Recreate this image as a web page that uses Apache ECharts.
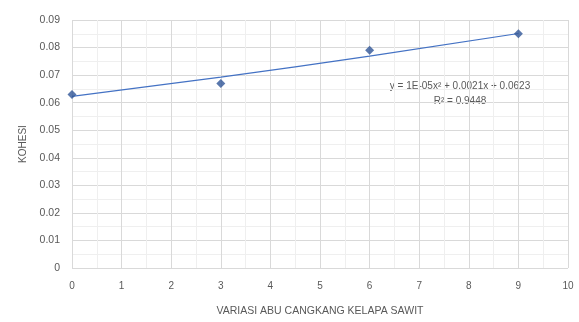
<!DOCTYPE html>
<html>
<head>
<meta charset="utf-8">
<script src="https://cdn.jsdelivr.net/npm/echarts@6/dist/echarts.min.js"></script>
<style>
  html, body { margin: 0; padding: 0; background: #fff; }
  #chart { width: 579px; height: 322px; }
</style>
</head>
<body>
<div id="chart"></div>
<script>
// variasi abu cangkang (x) vs kohesi (y)
const variasi = [0, 3, 6, 9]
const kohesi  = [0.063, 0.067, 0.079, 0.085]
// trendline values at the same x positions
const trend   = [0.0623, 0.0693, 0.0769, 0.0851]
const xTicks  = [0, 1, 2, 3, 4, 5, 6, 7, 8, 9, 10]
const yTicks  = [0, 0.01, 0.02, 0.03, 0.04, 0.05, 0.06, 0.07, 0.08, 0.09]
const eqLines = ['y = 1E-05x² + 0.0021x + 0.0623', 'R² = 0.9448']

const COLORS = {
  point: '#2f5597',
  line:  '#4472c4',
  text:  '#595959',
  grid:  '#d9d9d9',
  minor: '#efefef',
}
const FONT = '"Liberation Sans", Arial, sans-serif'

const chart = echarts.init(document.getElementById('chart'), null, { renderer: 'canvas' })

chart.setOption({
  backgroundColor: '#fff',
  animation: false,
  grid: { left: 72, right: 11, top: 20, bottom: 52 },
  xAxis: {
    type: 'value',
    min: xTicks[0],
    max: xTicks[xTicks.length - 1],
    interval: 1,
    name: 'VARIASI ABU CANGKANG KELAPA SAWIT',
    nameLocation: 'middle',
    nameGap: 38,
    nameTextStyle: { color: COLORS.text, fontSize: 10.5, fontFamily: FONT },
    axisLine: { show: false },
    axisTick: { show: false },
    axisLabel: { color: COLORS.text, fontSize: 10, fontFamily: FONT, margin: 13 },
    splitLine: { show: true, lineStyle: { color: COLORS.grid, width: 1 } },
    minorTick: { show: false, splitNumber: 2 },
    minorSplitLine: { show: true, lineStyle: { color: COLORS.minor, width: 1 } },
  },
  yAxis: {
    type: 'value',
    min: yTicks[0],
    max: yTicks[yTicks.length - 1],
    interval: 0.01,
    name: 'KOHESI',
    nameLocation: 'middle',
    nameGap: 44,
    nameTextStyle: { color: COLORS.text, fontSize: 10, fontFamily: FONT },
    axisLine: { show: false },
    axisTick: { show: false },
    axisLabel: {
      color: COLORS.text, fontSize: 10.5, fontFamily: FONT, margin: 12,
      formatter: v => v === 0 ? '0' : v.toFixed(2),
    },
    splitLine: { show: true, lineStyle: { color: COLORS.grid, width: 1 } },
    minorTick: { show: false, splitNumber: 2 },
    minorSplitLine: { show: true, lineStyle: { color: COLORS.minor, width: 1 } },
  },
  series: [
    {
      name: 'Trendline',
      type: 'line',
      data: variasi.map((x, i) => [x, trend[i]]),
      smooth: true,
      showSymbol: false,
      lineStyle: { color: COLORS.line, width: 1.2 },
      z: 2,
    },
    {
      name: 'Kohesi',
      type: 'scatter',
      data: variasi.map((x, i) => [x, kohesi[i]]),
      symbol: 'diamond',
      symbolSize: 9,
      itemStyle: { color: COLORS.point },
      z: 3,
    },
  ],
  graphic: [
    {
      type: 'text', x: 460, y: 86,
      style: { text: eqLines[0], fill: COLORS.text, font: '10px ' + FONT, align: 'center', verticalAlign: 'middle' },
    },
    {
      type: 'text', x: 460, y: 101,
      style: { text: eqLines[1], fill: COLORS.text, font: '10px ' + FONT, align: 'center', verticalAlign: 'middle' },
    },
  ],
})
</script>
</body>
</html>
